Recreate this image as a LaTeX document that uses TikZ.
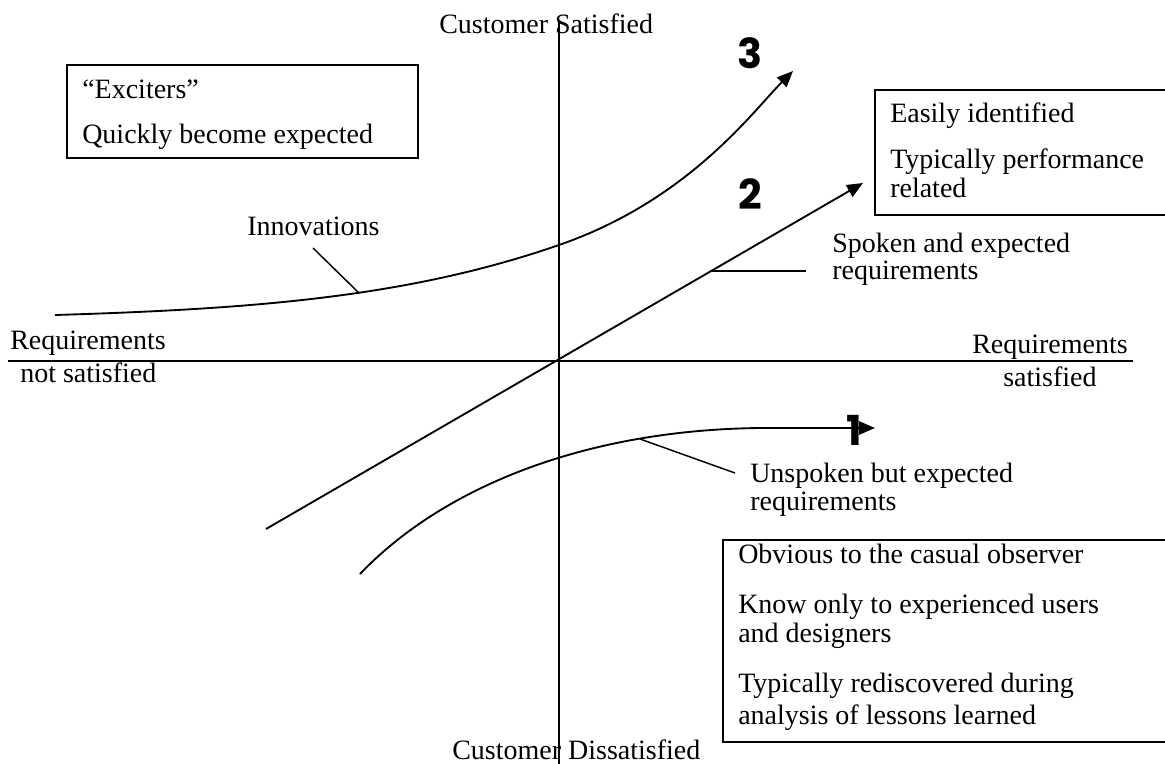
\documentclass[tikz,border=0pt]{standalone}
\usepackage{fontspec}
\setmainfont{Liberation Serif}
\newfontfamily\numfont{Poppins}
\usetikzlibrary{arrows.meta}

\tikzset{
  lbl/.style={anchor=base west, inner sep=0pt, font=\fontsize{21}{25}\selectfont},
  num/.style={inner sep=0pt, font=\numfont\bfseries\fontsize{31}{33}\selectfont},
  axisline/.style={line width=1.6pt},
  curveline/.style={line width=1.4pt},
  leader/.style={line width=1.1pt},
  boxline/.style={line width=1.3pt},
  tip/.style={-{Triangle[length=12pt,width=10pt]}}
}

\begin{document}
\begin{tikzpicture}[x=0.75pt,y=-0.75pt]
\clip (0,0) rectangle (1165,764);
\fill[white] (0,0) rectangle (1165,764);

% axes
\coordinate (xl) at (8,361);
\coordinate (xr) at (1133,361);
\coordinate (yt) at (559,22);
\coordinate (yb) at (559,764);
\draw[axisline] (xl) -- (xr);
\draw[axisline] (yt) -- (yb);

\node[lbl] (ctop) at (439,33) {Customer Satisfied};
\node[lbl] (cbot) at (452,759) {Customer Dissatisfied};
\node[lbl] (rnl1) at (10,349) {Requirements};
\node[lbl] (rnl2) at (20,382) {not satisfied};
\node[lbl] (rs1) at (972,353) {Requirements};
\node[lbl] (rs2) at (1003,386) {satisfied};

% curve 3: exciters
\coordinate (c3a) at (55,315);
\coordinate (c3m) at (559,245);
\coordinate (c3b) at (793,71);
\draw[curveline, tip] (c3a) .. controls (255,309) and (409,297) .. (c3m)
  .. controls (689,200) and (753,111) .. (c3b);
\node[num] (n3) at (750,53) {3};

% line 2: spoken requirements
\coordinate (l2a) at (266,529);
\coordinate (l2b) at (863,183);
\draw[curveline, tip] (l2a) -- (l2b);
\node[num] (n2) at (750,194) {2};

% curve 1: unspoken requirements
\coordinate (c1a) at (360,574);
\coordinate (c1m) at (760,428);
\coordinate (c1b) at (875,428);
\draw[curveline, tip] (c1a) .. controls (440,490) and (580,430) .. (c1m) -- (c1b);
\node[num] (n1) at (854,430) {1};

% leaders
\coordinate (inA) at (359,293);
\coordinate (inB) at (313,248);
\draw[leader] (inA) -- (inB);
\node[lbl] (innov) at (247,235) {Innovations};

\coordinate (spA) at (710,271);
\coordinate (spB) at (806,271);
\draw[leader] (spA) -- (spB);
\node[lbl] (sp1) at (832,252) {Spoken and expected};
\node[lbl] (sp2) at (832,279) {requirements};

\coordinate (unA) at (640,439);
\coordinate (unB) at (735,473);
\draw[leader] (unA) -- (unB);
\node[lbl] (un1) at (750,482) {Unspoken but expected};
\node[lbl] (un2) at (750,510) {requirements};

% box: exciters
\coordinate (b1a) at (67,65);
\coordinate (b1b) at (418,158);
\draw[boxline] (b1a) rectangle (b1b);
\node[lbl] (ex1) at (82,98) {“Exciters”};
\node[lbl] (ex2) at (82,143) {Quickly become expected};

% box: performance
\coordinate (b2a) at (875,90);
\coordinate (b2b) at (1180,215);
\draw[boxline] (b2a) rectangle (b2b);
\node[lbl] (pf1) at (890,122) {Easily identified};
\node[lbl] (pf2) at (890,168) {Typically performance};
\node[lbl] (pf3) at (890,197) {related};

% box: basic needs
\coordinate (b3a) at (723,540);
\coordinate (b3b) at (1180,742);
\draw[boxline] (b3a) rectangle (b3b);
\node[lbl] (bs1) at (738,563) {Obvious to the casual observer};
\node[lbl] (bs2) at (738,613) {Know only to experienced users};
\node[lbl] (bs3) at (738,642) {and designers};
\node[lbl] (bs4) at (738,692) {Typically rediscovered during};
\node[lbl] (bs5) at (738,724) {analysis of lessons learned};
\end{tikzpicture}
\end{document}
